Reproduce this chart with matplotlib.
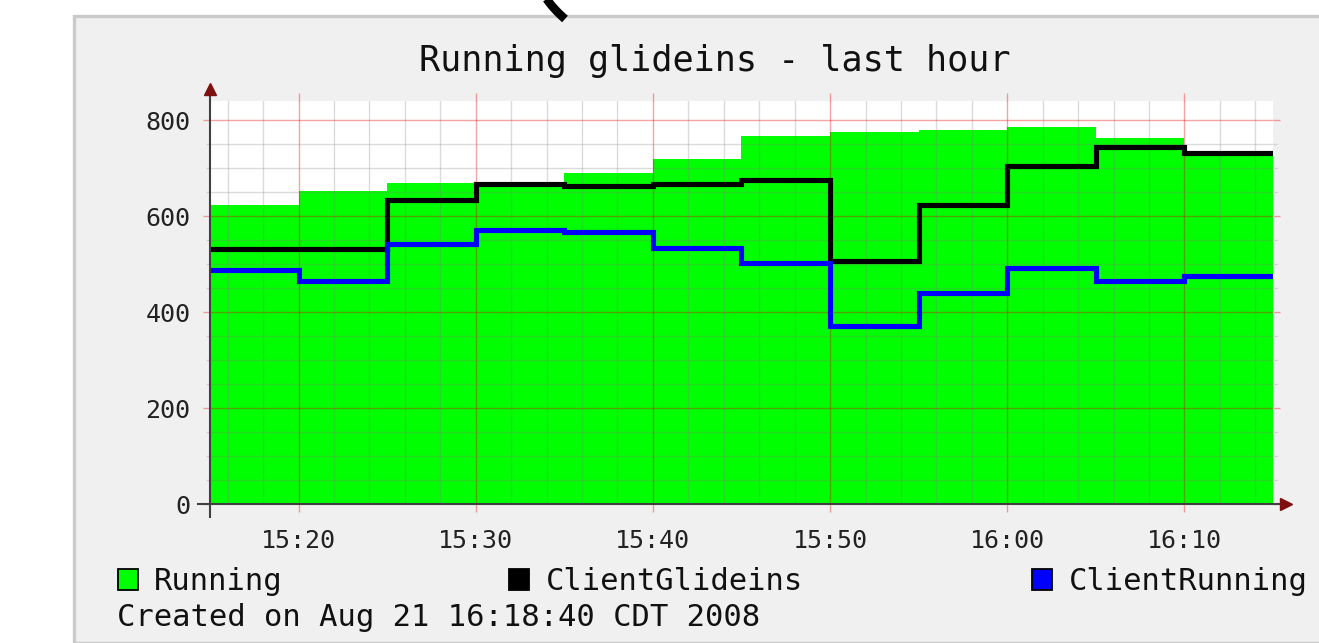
import matplotlib
matplotlib.use("Agg")
import matplotlib.pyplot as plt
from matplotlib.patches import Rectangle
from matplotlib.lines import Line2D
import numpy as np

# ---- data (minutes after 15:00, 5-minute steps) ----
edges = [15, 20, 25, 30, 35, 40, 45, 50, 55, 60, 65, 70, 75]
running = [623, 652, 669, 668, 689, 720, 767, 776, 780, 785, 763, 730]
client_glideins = [531, 531, 633, 668, 663, 668, 675, 507, 624, 705, 745, 732]
client_running = [487, 465, 542, 571, 567, 533, 503, 371, 440, 491, 465, 476]
xtick_pos = [20, 30, 40, 50, 60, 70]
xtick_labels = ["15:20", "15:30", "15:40", "15:50", "16:00", "16:10"]
ytick_pos = [0, 200, 400, 600, 800]
title = "Running glideins - last hour"
legend_labels = ["Running", "ClientGlideins", "ClientRunning"]
footer = "Created on Aug 21 16:18:40 CDT 2008"

W, H = 1319, 643
MONO = "DejaVu Sans Mono"
GREEN, BLACK, BLUE = "#00ff00", "#000000", "#0000ff"
GRID_RGB, GRID_A = (0.5, 0.5, 0.5), 0.28
MGRID_RGB, MGRID_A = (0.9, 0.0, 0.0), 0.36
ARROW = "#7f1010"
AXIS = "#404040"

def fx(px):
    return px / W

def fy(py):
    return 1 - py / H

fig = plt.figure(figsize=(W / 100, H / 100), dpi=100, facecolor="white")

# grey panel with shade border
fig.patches.append(Rectangle((fx(74), 0), 1 - fx(74) + 0.01, fy(16), transform=fig.transFigure,
                             facecolor="#f0f0f0", edgecolor="#cbcbcb", linewidth=2.4, zorder=-5))

# stray black stroke at top
t = np.linspace(0, 1, 30)
arc_x = 546 + 14 * t + 5 * t ** 2
arc_y = -2 + 21 * t
fig.add_artist(Line2D([fx(v) for v in arc_x], [fy(v) for v in arc_y], transform=fig.transFigure,
                      color="black", linewidth=6.2, solid_capstyle="butt", zorder=5))

ax = fig.add_axes([fx(210), fy(504), fx(1273) - fx(210), fy(101) - fy(504)])
ax.set_zorder(1)
ax.set_facecolor("white")
ax.set_xlim(15, 75)
ax.set_ylim(0, 840)

ax.stairs(running, edges, fill=True, color=GREEN, zorder=2, linewidth=0)

ax.set_xticks(xtick_pos)
ax.set_xticklabels(xtick_labels)
ax.set_xticks(np.arange(16, 75, 2), minor=True)
ax.set_yticks(ytick_pos)
ax.set_yticks(np.arange(50, 840, 50), minor=True)
ax.grid(True, which="minor", color=GRID_RGB, alpha=GRID_A, linewidth=1.0)
ax.grid(True, which="major", color=MGRID_RGB, alpha=MGRID_A, linewidth=1.0)
ax.set_axisbelow(False)

ax.stairs(client_glideins, edges, color=BLACK, linewidth=3.7, zorder=4, baseline=None)
ax.stairs(client_running, edges, color=BLUE, linewidth=3.7, zorder=5, baseline=None)

for s in ax.spines.values():
    s.set_visible(False)

mg = MGRID_RGB + (MGRID_A,)
gg = GRID_RGB + (GRID_A,)
ax.tick_params(axis="both", which="major", labelsize=18, colors=mg, labelcolor="#222222",
               width=1.0, direction="out")
ax.tick_params(axis="y", which="major", length=5, pad=9, right=True)
ax.tick_params(axis="y", which="minor", colors=gg, length=3, width=1.0, right=True)
ax.tick_params(axis="x", which="major", length=6, pad=12, top=True)
ax.tick_params(axis="x", which="minor", length=0)
for lab in ax.get_xticklabels() + ax.get_yticklabels():
    lab.set_fontfamily(MONO)

# axis lines with arrows
ax.plot([0, 0], [-0.032, 1.035], transform=ax.transAxes, color=AXIS, linewidth=1.5,
        clip_on=False, zorder=6)
ax.plot([-0.011, 1.012], [0, 0], transform=ax.transAxes, color=AXIS, linewidth=1.5,
        clip_on=False, zorder=6)
ax.plot([0], [1.03], marker="^", markersize=8, color=ARROW, transform=ax.transAxes,
        clip_on=False, zorder=7)
ax.plot([1.012], [0], marker=">", markersize=8, color=ARROW, transform=ax.transAxes,
        clip_on=False, zorder=7)

# title
fig.text(fx(715), fy(71), title, ha="center", va="baseline", fontsize=25.3,
         family=MONO, color="#111111")

# legend
leg_boxes = [118, 509, 1032]
leg_text = [154, 546, 1069]
colors = [GREEN, BLACK, BLUE]
for bx, tx, c, lab in zip(leg_boxes, leg_text, colors, legend_labels):
    fig.patches.append(Rectangle((fx(bx), fy(590)), fx(20), 21 / H, transform=fig.transFigure,
                                 facecolor=c, edgecolor="black", linewidth=1.3, zorder=3))
    fig.text(fx(tx), fy(590), lab, ha="left", va="baseline", fontsize=22,
             family=MONO, color="#111111")

fig.text(fx(117), fy(626), footer, ha="left", va="baseline", fontsize=22,
         family=MONO, color="#111111")

fig.savefig("out.png", dpi=100, facecolor="white")
